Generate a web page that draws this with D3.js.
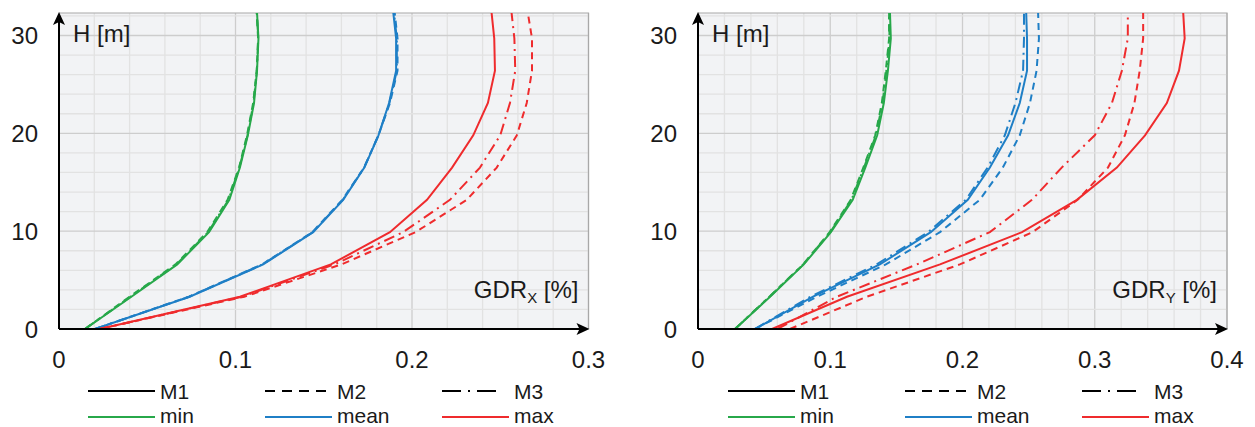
<!DOCTYPE html>
<html>
<head>
<meta charset="utf-8">
<script src="https://cdn.jsdelivr.net/npm/d3@7"></script>
<style>
  body { margin: 0; background: #fff; }
  text { font-family: "Liberation Sans", Arial, sans-serif; fill: #1a1a1a; }
</style>
</head>
<body>
<div id="vis"></div>
<script>
// storey heights [m]
let heights = [0, 3.3, 6.6, 9.9, 13.2, 16.5, 19.8, 23.1, 26.4, 29.7, 33]

// GDR_X [%]
let xMinM1  = [0.0147, 0.041, 0.067, 0.085, 0.0965, 0.1025, 0.107, 0.1105, 0.1122, 0.113, 0.112]
let xMinM2  = [0.0147, 0.040, 0.066, 0.084, 0.0955, 0.102, 0.1065, 0.110, 0.112, 0.1128, 0.1118]
let xMinM3  = [0.0147, 0.0405, 0.0665, 0.0845, 0.096, 0.1022, 0.1068, 0.1102, 0.1121, 0.1129, 0.1119]
let xMeanM1 = [0.0204, 0.074, 0.1157, 0.144, 0.161, 0.173, 0.181, 0.187, 0.191, 0.191, 0.189]
let xMeanM2 = [0.0204, 0.0735, 0.115, 0.1435, 0.1605, 0.1728, 0.181, 0.1875, 0.1918, 0.1918, 0.1898]
let xMeanM3 = [0.0204, 0.0738, 0.1153, 0.1438, 0.1608, 0.1729, 0.181, 0.1872, 0.1914, 0.1914, 0.1894]
let xMaxM1  = [0.023, 0.1025, 0.154, 0.1875, 0.2085, 0.2227, 0.2347, 0.243, 0.247, 0.2466, 0.2447]
let xMaxM2  = [0.023, 0.105, 0.160, 0.202, 0.231, 0.248, 0.2594, 0.265, 0.268, 0.268, 0.265]
let xMaxM3  = [0.023, 0.1035, 0.156, 0.195, 0.2215, 0.2385, 0.250, 0.2555, 0.2585, 0.258, 0.256]

// GDR_Y [%]
let yMinM1  = [0.028, 0.0545, 0.080, 0.1005, 0.117, 0.1265, 0.1355, 0.1405, 0.1436, 0.1458, 0.145]
let yMinM2  = [0.028, 0.054, 0.0795, 0.0995, 0.1155, 0.125, 0.134, 0.139, 0.142, 0.1445, 0.1445]
let yMinM3  = [0.028, 0.054, 0.0795, 0.100, 0.116, 0.1255, 0.1345, 0.1395, 0.1425, 0.1448, 0.1445]
let yMeanM1 = [0.043, 0.087, 0.1375, 0.176, 0.204, 0.2207, 0.2345, 0.2433, 0.2488, 0.2488, 0.248]
let yMeanM2 = [0.043, 0.090, 0.142, 0.183, 0.213, 0.2305, 0.2433, 0.251, 0.256, 0.2578, 0.257]
let yMeanM3 = [0.043, 0.085, 0.135, 0.174, 0.2025, 0.219, 0.232, 0.240, 0.2458, 0.2465, 0.2465]
let yMaxM1  = [0.056, 0.1126, 0.183, 0.245, 0.2865, 0.3167, 0.338, 0.3545, 0.3637, 0.368, 0.3666]
let yMaxM2  = [0.0695, 0.1277, 0.198, 0.253, 0.287, 0.310, 0.3228, 0.330, 0.334, 0.3366, 0.3366]
let yMaxM3  = [0.060, 0.105, 0.1655, 0.2207, 0.2525, 0.275, 0.300, 0.313, 0.3205, 0.325, 0.325]

let xTicksX = [0, 0.1, 0.2, 0.3]
let xTicksY = [0, 0.1, 0.2, 0.3, 0.4]
let hTicks = [0, 10, 20, 30]

let models = ['M1', 'M2', 'M3']
let stats = ['min', 'mean', 'max']

let colors = { min: '#27a84a', mean: '#1f7fc6', max: '#ef2b2d' }
let dashes = { M1: null, M2: '7,5', M3: '11,5,2,5' }

let width = 1255, height = 427

let svg = d3.select('#vis')
  .append('svg')
  .attr('width', width)
  .attr('height', height)

let defs = svg.append('defs')

function drawPanel(p) {
  let x = d3.scaleLinear().domain([0, p.xMax]).range([p.left, p.right])
  let y = d3.scaleLinear().domain([0, 32.3]).range([329, 13])

  let g = svg.append('g')

  g.append('rect')
    .attr('x', p.left).attr('y', y.range()[1])
    .attr('width', p.right - p.left).attr('height', y.range()[0] - y.range()[1])
    .attr('fill', '#f2f3f5')

  // grid
  let gx = d3.range(0, p.xMax + 1e-9, 0.02)
  let gy = d3.range(0, 32.3, 2)
  g.selectAll('.vgrid')
    .data(gx.slice(1))
    .join('line')
    .attr('x1', d => x(d)).attr('x2', d => x(d))
    .attr('y1', y.range()[0]).attr('y2', y.range()[1])
    .attr('stroke', d => Math.abs(d * 10 - Math.round(d * 10)) < 1e-6 ? '#cdcdcd' : '#e2e2e2')
    .attr('stroke-width', 1.3)
  g.selectAll('.hgrid')
    .data(gy.slice(1))
    .join('line')
    .attr('x1', p.left).attr('x2', p.right)
    .attr('y1', d => y(d)).attr('y2', d => y(d))
    .attr('stroke', d => d % 10 == 0 ? '#cdcdcd' : '#e2e2e2')
    .attr('stroke-width', 1.3)

  // top and right border
  g.append('path')
    .attr('d', `M${p.left},${y.range()[1]}H${p.right}V${y.range()[0]}`)
    .attr('fill', 'none')
    .attr('stroke', '#a8a8a8')
    .attr('stroke-width', 1.2)

  let clipId = 'clip' + p.id
  defs.append('clipPath').attr('id', clipId)
    .append('rect')
    .attr('x', p.left).attr('y', y.range()[1])
    .attr('width', p.right - p.left).attr('height', y.range()[0] - y.range()[1])

  let line = d3.line()
    .x(d => x(d[0]))
    .y(d => y(d[1]))

  g.append('g')
    .attr('clip-path', `url(#${clipId})`)
    .selectAll('path')
    .data(p.series)
    .join('path')
    .attr('d', d => line(d.values.map((v, i) => [v, heights[i]])))
    .attr('fill', 'none')
    .attr('stroke', d => colors[d.stat])
    .attr('stroke-width', 2)
    .attr('stroke-dasharray', d => dashes[d.model])

  // axes with arrows
  g.append('line')
    .attr('x1', p.left).attr('x2', p.right - 6)
    .attr('y1', y(0)).attr('y2', y(0))
    .attr('stroke', '#000').attr('stroke-width', 2)
  g.append('path')
    .attr('d', `M${p.right + 1},${y(0)}l-13,-6l3,6l-3,6z`)
    .attr('fill', '#000')
  g.append('line')
    .attr('x1', p.left).attr('x2', p.left)
    .attr('y1', y(0)).attr('y2', y.range()[1] + 6)
    .attr('stroke', '#000').attr('stroke-width', 2)
  g.append('path')
    .attr('d', `M${p.left},${y.range()[1] - 1}l-6,13l6,-3l6,3z`)
    .attr('fill', '#000')

  // tick labels
  g.selectAll('.xt')
    .data(p.ticks)
    .join('text')
    .attr('x', d => x(d))
    .attr('y', 368)
    .attr('text-anchor', 'middle')
    .style('font-size', '24px')
    .text(d => d)
  g.selectAll('.yt')
    .data(hTicks)
    .join('text')
    .attr('x', p.left - 21)
    .attr('y', d => y(d) + 8.5)
    .attr('text-anchor', 'end')
    .style('font-size', '24px')
    .text(d => d)

  // axis titles
  g.append('text')
    .attr('x', p.left + 14).attr('y', 42)
    .style('font-size', '24px')
    .text('H [m]')
  let t = g.append('text')
    .attr('x', p.right - 10).attr('y', 298)
    .attr('text-anchor', 'end')
    .style('font-size', '24px')
  t.append('tspan').text('GDR')
  t.append('tspan').attr('dy', 5).style('font-size', '15px').text(p.sub)
  t.append('tspan').attr('dy', -5).text(' [%]')

  // legend
  let leg = g.append('g')
  models.forEach((m, i) => {
    let lx = p.legLeft + i * 177
    leg.append('line')
      .attr('x1', lx).attr('x2', lx + (m == 'M3' ? 56 : 67))
      .attr('y1', 391).attr('y2', 391)
      .attr('stroke', '#000').attr('stroke-width', 2)
      .attr('stroke-dasharray', m == 'M2' ? '10,7' : (m == 'M3' ? '19,7,2,7' : null))
    leg.append('text')
      .attr('x', lx + 72).attr('y', 399)
      .style('font-size', '21px')
      .text(m)
  })
  stats.forEach((s, i) => {
    let lx = p.legLeft + i * 177
    leg.append('line')
      .attr('x1', lx).attr('x2', lx + 67)
      .attr('y1', 417).attr('y2', 417)
      .attr('stroke', colors[s]).attr('stroke-width', 1.8)
    leg.append('text')
      .attr('x', lx + 72).attr('y', 423)
      .style('font-size', '21px')
      .text(s)
  })
}

function makeSeries(arrs) {
  let out = []
  stats.forEach((s, i) => {
    models.forEach((m, j) => {
      out.push({ stat: s, model: m, values: arrs[i * 3 + j] })
    })
  })
  return out
}

drawPanel({
  id: 'X', left: 59, right: 588.5, xMax: 0.3, ticks: xTicksX, sub: 'X', legLeft: 88,
  series: makeSeries([xMinM1, xMinM2, xMinM3, xMeanM1, xMeanM2, xMeanM3, xMaxM1, xMaxM2, xMaxM3])
})
drawPanel({
  id: 'Y', left: 698, right: 1227, xMax: 0.4, ticks: xTicksY, sub: 'Y', legLeft: 728,
  series: makeSeries([yMinM1, yMinM2, yMinM3, yMeanM1, yMeanM2, yMeanM3, yMaxM1, yMaxM2, yMaxM3])
})
</script>
</body>
</html>
